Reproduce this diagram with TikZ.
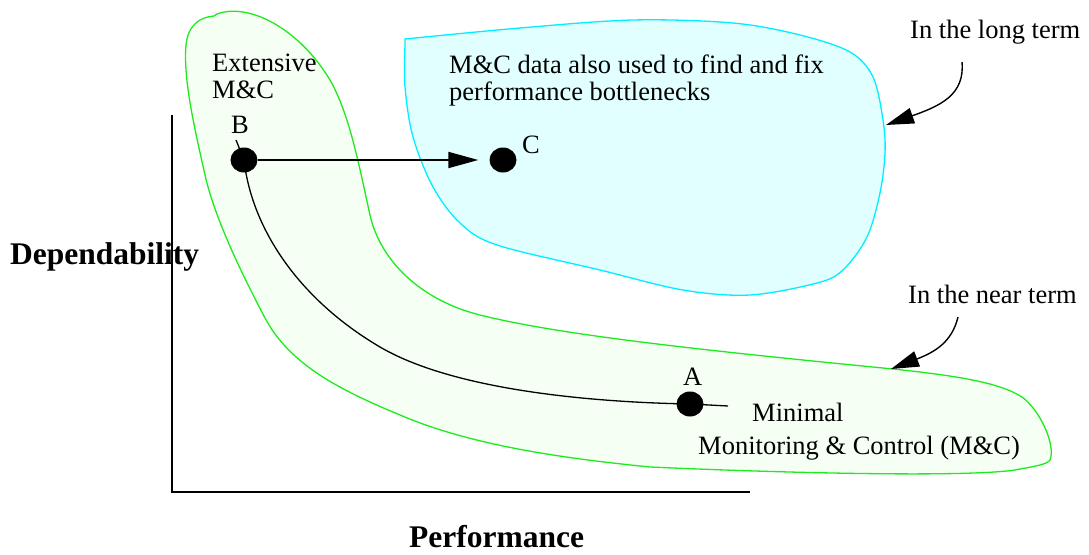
\documentclass[tikz,border=0pt]{standalone}
\usepackage{fontspec}
\setmainfont{Liberation Serif}
\usetikzlibrary{arrows.meta,shapes.geometric}

\definecolor{bandline}{RGB}{30,235,30}
\definecolor{bandfill}{RGB}{246,255,244}
\definecolor{goalline}{RGB}{0,238,255}
\definecolor{goalfill}{RGB}{226,255,255}

\newcommand{\plainfont}{\fontsize{26.5}{27}\selectfont}
\newcommand{\headfont}{\fontsize{31.5}{32}\selectfont\bfseries}

\tikzset{
  region/.style={line width=1.3pt},
  dotnode/.style={ellipse, fill=black, minimum width=27pt, minimum height=25pt, inner sep=0pt},
  lbl/.style={inner sep=0pt, anchor=base west, font=\plainfont},
  axislabel/.style={inner sep=0pt, anchor=base west, font=\headfont},
  axisline/.style={line width=2pt},
  tradeoff/.style={line width=1.3pt},
  moveto/.style={line width=2pt, -{Triangle[length=30pt,width=16pt]}},
  pointer/.style={line width=1.4pt, -{Triangle[length=28pt,width=16pt]}},
}

\begin{document}
\begin{tikzpicture}[x=1pt,y=-1pt]
\useasboundingbox (0,0) rectangle (1089,554);

% near-term band (green)
\draw[region, draw=bandline, fill=bandfill]
  (217,14) .. controls (250,2) and (300,30) .. (330,80)
  .. controls (350,115) and (360,170) .. (370,215)
  .. controls (380,260) and (420,300) .. (480,315)
  .. controls (560,335) and (700,350) .. (893,369)
  .. controls (960,376) and (1000,383) .. (1022,397)
  .. controls (1040,410) and (1056,445) .. (1050,460)
  .. controls (1047,465) and (1030,467) .. (1015,470)
  .. controls (960,478) and (760,472) .. (650,467)
  .. controls (560,458) and (470,445) .. (400,415)
  .. controls (340,390) and (290,365) .. (265,318)
  .. controls (245,280) and (215,220) .. (205,175)
  .. controls (195,130) and (183,80) .. (186,45)
  .. controls (188,25) and (200,17) .. (214,16)
  -- cycle;

% long-term region (cyan)
\draw[region, draw=goalline, fill=goalfill]
  plot[smooth, tension=0.55] coordinates {
    (405,39) (520,28) (633,20) (733,23) (800,35) (850,52) (873,77)
    (883,120) (885,153) (880,193) (867,237) (843,270) (817,283) (750,295)
    (683,290) (600,270) (497,245) (460,223) (433,187) (413,137) (405,87)
    (405,45)}
  -- cycle;

% axes
\coordinate (ytop) at (172,115);
\coordinate (origin) at (172,492);
\coordinate (xend) at (750,492);
\draw[axisline] (ytop) -- (origin) -- (xend);

\node[axislabel] (ylabel) at (10,264) {Dependability};
\node[axislabel] (xlabel) at (409,547) {Performance};

% operating points
\node[dotnode] (B) at (244,160) {};
\node[dotnode] (A) at (690,404) {};
\node[dotnode] (C) at (503,160) {};

\node[lbl] (Blabel) at (231,133) {B};
\node[lbl] (Alabel) at (683,385) {A};
\node[lbl] (Clabel) at (522,153) {C};

% trade-off curve from B to A
\coordinate (Btop) at (236,140);
\coordinate (Aend) at (728,406);
\draw[tradeoff] (Btop) -- (B.center)
  .. controls (252,230) and (300,300) .. (380,347)
  .. controls (450,388) and (580,402) .. (A.center)
  -- (Aend);

% move from B to C
\draw[moveto] (B.east) -- ([xshift=-11pt]C.west);

% region texts
\node[lbl] (ext1) at (212,71) {Extensive};
\node[lbl] (ext2) at (212,98) {M\&C};
\node[lbl] (goal1) at (449,73) {M\&C data also used to find and fix};
\node[lbl] (goal2) at (449,100) {performance bottlenecks};
\node[lbl] (min1) at (752,421) {Minimal};
\node[lbl] (min2) at (698,454) {Monitoring \& Control (M\&C)};

% term labels and their pointers
\node[lbl] (longterm) at (910,38) {In the long term};
\node[lbl] (nearterm) at (908,303) {In the near term};
\coordinate (longstart) at (962,62);
\coordinate (longtip) at (886,125);
\coordinate (nearstart) at (958,317);
\coordinate (neartip) at (891,369);
\draw[pointer] (longstart) .. controls (965,95) and (940,106) .. (longtip);
\draw[pointer] (nearstart) .. controls (952,342) and (935,352) .. (neartip);
\end{tikzpicture}
\end{document}
